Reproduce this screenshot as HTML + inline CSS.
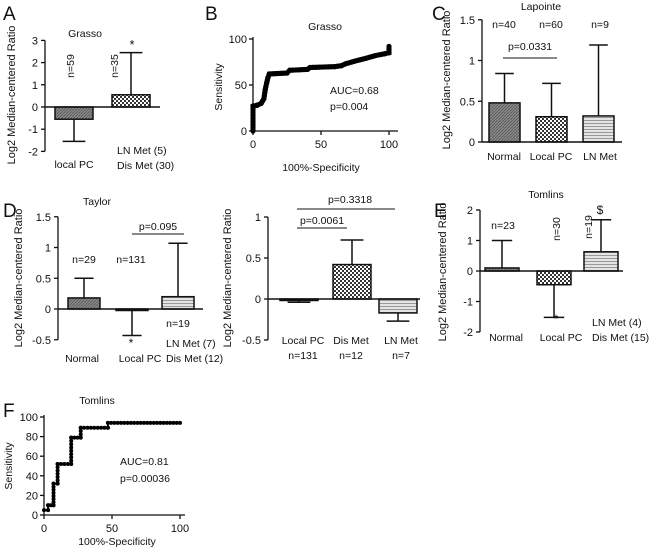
<!DOCTYPE html>
<html><head><meta charset="utf-8"><style>
body{margin:0;background:#fff}
svg{display:block;font-family:"Liberation Sans",Arial,sans-serif}
</style></head><body>
<svg id="fig" width="650" height="549" viewBox="0 0 650 549" xmlns="http://www.w3.org/2000/svg">
<defs>
<pattern id="pDark" width="3" height="3" patternUnits="userSpaceOnUse"><rect width="3" height="3" fill="#8a8a8a"/><path d="M0 3L3 0" stroke="#555" stroke-width="0.8"/></pattern>
<pattern id="pCheck" width="4" height="4" patternUnits="userSpaceOnUse"><rect width="4" height="4" fill="#fff"/><rect width="2" height="2" fill="#333"/><rect x="2" y="2" width="2" height="2" fill="#333"/></pattern>
<pattern id="pLines" width="4" height="3" patternUnits="userSpaceOnUse"><rect width="4" height="3" fill="#e4e4e4"/><rect width="4" height="1" fill="#999"/></pattern>
</defs>
<g id="root"></g>
</svg>
<script>
// Panel A (Grasso)
const aCats=["local PC","LN/Dis Met"];
const aVals=[-0.55,0.55];
const aErr=[-1.55,2.45];
const aTicks=[3,2,1,0,-1,-2];
// Panel C (Lapointe)
const cCats=["Normal","Local PC","LN Met"];
const cVals=[0.48,0.31,0.32];
const cErr=[0.84,0.72,1.19];
const cTicks=[1.5,1,0.5,0];
// Panel D left (Taylor)
const dCats=["Normal","Local PC","LN/Dis Met"];
const dVals=[0.18,-0.01,0.2];
const dErr=[0.5,-0.43,1.07];
const dTicks=[1.5,1,0.5,0,-0.5];
// Panel D right
const d2Cats=["Local PC","Dis Met","LN Met"];
const d2Vals=[-0.01,0.42,-0.17];
const d2Err=[-0.04,0.72,-0.27];
const d2Ticks=[1,0.5,0,-0.5];
// Panel E (Tomlins)
const eCats=["Normal","Local PC","LN/Dis Met"];
const eVals=[0.1,-0.45,0.63];
const eErr=[1.0,-1.52,1.68];
const eTicks=[2,1,0,-1,-2];
// Panel B ROC (Grasso)
const bX=[0,0,3,6,8,9,10,11,12,25,27,40,42,60,65,68,75,83,90,97,100,100];
const bY=[0,27,28,30,35,45,52,58,62,63,66,67,69,70,71,73,76,79,82,84,85,92];
// Panel F ROC (Tomlins)
const fX=[0,3,3,7,7,10,10,20,20,27,27,47,47,100];
const fY=[5,5,10,10,32,32,52,52,79,79,89,89,94,94];
const rocTicksY_B=[0,50,100];
const rocTicksX=[0,50,100];
const rocTicksY_F=[0,20,40,60,80,100];

const FS=10.5;
const NS="http://www.w3.org/2000/svg";
const root=document.getElementById('root');
function mk(tag,attrs,parent){const e=document.createElementNS(NS,tag);for(const k in attrs)e.setAttribute(k,attrs[k]);(parent||root).appendChild(e);return e;}
function txt(s,x,y,opt,parent){opt=opt||{};const t=mk('text',{x:x,y:y,'font-size':opt.size||FS,'text-anchor':opt.anchor||'middle',fill:'#111'},parent);if(opt.rot)t.setAttribute('transform','rotate(-90 '+x+' '+y+')');t.textContent=s;return t;}
function lin(x1,y1,x2,y2,w,parent){return mk('line',{x1:x1,y1:y1,x2:x2,y2:y2,stroke:'#111','stroke-width':w||1.3},parent);}

function barChart(name,o,cats,vals,errs,ticks){
  const g=mk('g',{});
  
  
  const ys=v=>o.y0-v*o.ppu;
  const tmax=ticks[0],tmin=ticks[ticks.length-1];
  lin(o.ax,ys(tmax),o.ax,ys(tmin),1.3,g);
  ticks.forEach(t=>{lin(o.ax-4,ys(t),o.ax,ys(t),1.3,g);const l=txt(String(t),o.ax-7,ys(t)+4,{anchor:'end',size:11},g);
    
    });
  cats.forEach((c,i)=>{
    const x=o.bx[i],w=o.bw,v=vals[i];
    const top=Math.min(ys(v),ys(0)),h=Math.max(Math.abs(ys(v)-ys(0)),1.5);
    const r=mk('rect',{x:x,y:top,width:w,height:h,fill:'url(#'+o.fills[i]+')',stroke:'#111','stroke-width':1.5},g);
    
    
    const cx=x+w/2;
    lin(cx,ys(v),cx,ys(errs[i]),1.5,g);
    lin(cx-w*0.3,ys(errs[i]),cx+w*0.3,ys(errs[i]),1.5,g);
  });
  lin(o.ax,ys(0),o.xend,ys(0),1.5,g);
  return g;
}

function roc(name,o,xs,ys,ticksY){
  const g=mk('g',{});
  
  
  const sx=v=>o.x0+v*o.px, sy=v=>o.y0-v*o.py;
  lin(o.x0,sy(ticksY[ticksY.length-1])-2,o.x0,o.y0,1.3,g);
  lin(o.x0,o.y0,o.xend,o.y0,1.3,g);
  ticksY.forEach(t=>{lin(o.x0-4,sy(t),o.x0,sy(t),1.3,g);txt(String(t),o.x0-6,sy(t)+4,{anchor:'end',size:11},g);});
  rocTicksX.forEach(t=>{lin(sx(t),o.y0,sx(t),o.y0+4,1.3,g);txt(String(t),sx(t),o.y0+17,{size:11},g);});
  const pts=xs.map((x,i)=>sx(x)+','+sy(ys[i])).join(' ');
  const pl=mk('polyline',{points:pts,fill:'none',stroke:'#000','stroke-width':o.lw},g);
  
  
  for(let i=0;i<xs.length-1;i++){
    const x1=sx(xs[i]),y1=sy(ys[i]),x2=sx(xs[i+1]),y2=sy(ys[i+1]);
    const n=Math.max(1,Math.round(Math.hypot(x2-x1,y2-y1)/o.step));
    for(let k=0;k<=n;k++){mk('circle',{cx:x1+(x2-x1)*k/n,cy:y1+(y2-y1)*k/n,r:o.mr,fill:'#000'},g);}
  }
  return g;
}

// Panel letters
[["A",3,20],["B",205,20],["C",432,20],["D",3,217],["E",434,217],["F",3,417]].forEach(l=>{const t=txt(l[0],l[1],l[2],{anchor:'start',size:19});
  
  });

// A
barChart('panel-a-chart',{ax:45,y0:107,ppu:22.2,xend:160,bx:[55,112],bw:38,fills:['pDark','pCheck']},aCats,aVals,aErr,aTicks);
txt('Grasso',85,37,{size:10.5});
txt('Log2 Median-centered Ratio',15,95,{rot:1,size:11});
txt('n=59',74,66,{rot:1});txt('n=35',118,66,{rot:1});
txt('*',132,49,{size:13});
txt('local PC',74,168);
txt('LN Met (5)',117,154,{anchor:'start'});txt('Dis Met (30)',117,169,{anchor:'start'});

// B
roc('panel-b-roc',{x0:253,y0:131,px:1.36,py:0.92,xend:398,lw:5,step:3,mr:2.6},bX,bY,rocTicksY_B);
txt('Grasso',325,30,{size:10.5});
txt('AUC=0.68',330,94,{anchor:'start'});
txt('p=0.004',330,110,{anchor:'start'});
txt('100%-Specificity',321,171);
txt('Sensitivity',222,87,{rot:1});

// C
barChart('panel-c-chart',{ax:482,y0:142,ppu:81.5,xend:622,bx:[489,536,583],bw:31,fills:['pDark','pCheck','pLines']},cCats,cVals,cErr,cTicks);
txt('Lapointe',541,10,{size:10.5});
txt('Log2 Median-centered Ratio',450,80,{rot:1,size:11});
txt('n=40',504,28);txt('n=60',551,28);txt('n=9',600,28);
lin(503,58,557,58,1);txt('p=0.0331',530,50);
cCats.forEach((c,i)=>txt(c,[504,551,600][i],160));

// D left
barChart('panel-d-left-chart',{ax:58,y0:309,ppu:61.5,xend:203,bx:[68,116,162],bw:32,fills:['pDark','pCheck','pLines']},dCats,dVals,dErr,dTicks);
txt('Taylor',97,205,{size:10.5});
txt('Log2 Median-centered Ratio',22,278,{rot:1,size:11});
txt('n=29',84,263);txt('n=131',131,263);txt('n=19',178,327);
lin(132,234,184,234,1);txt('p=0.095',158,230);
txt('*',131,347,{size:12});
txt('Normal',82,362);txt('Local PC',140,362);
txt('LN Met (7)',166,347,{anchor:'start'});txt('Dis Met (12)',166,362,{anchor:'start'});

// D right
barChart('panel-d-right-chart',{ax:268,y0:299,ppu:82,xend:420,bx:[280,333,379],bw:38,fills:['pDark','pCheck','pLines']},d2Cats,d2Vals,d2Err,d2Ticks);
txt('Log2 Median-centered Ratio',231,278,{rot:1,size:11});
lin(297,228,347,228,1);txt('p=0.0061',322,224);
lin(297,209,395,209,1);txt('p=0.3318',350,203);
[['Local PC','n=131',303],['Dis Met','n=12',351],['LN Met','n=7',401]].forEach(a=>{txt(a[0],a[2],344);txt(a[1],a[2],359);});

// E
barChart('panel-e-chart',{ax:480,y0:271,ppu:30.5,xend:623,bx:[485,537,584],bw:34,fills:['pDark','pCheck','pLines']},eCats,eVals,eErr,eTicks);
txt('Tomlins',546,198,{size:10.5});
txt('Log2 Median-centered Ratio',446,272,{rot:1,size:11});
txt('n=23',503,229);txt('n=30',560,229,{rot:1});txt('n=19',592,227,{rot:1});
txt('$',600,214,{size:12});txt('*',556,323,{size:12});
txt('Normal',506,341);txt('Local PC',561,341);
txt('LN Met (4)',592,326,{anchor:'start'});txt('Dis Met (15)',592,341,{anchor:'start'});

// F
roc('panel-f-roc',{x0:44,y0:515,px:1.36,py:0.98,xend:185,lw:2,step:3.3,mr:2},fX,fY,rocTicksY_F);
txt('Tomlins',97,404,{size:10.5});
txt('AUC=0.81',120,465,{anchor:'start'});
txt('p=0.00036',120,482,{anchor:'start'});
txt('100%-Specificity',117,545);
txt('Sensitivity',12,466,{rot:1});
</script>
</body></html>
